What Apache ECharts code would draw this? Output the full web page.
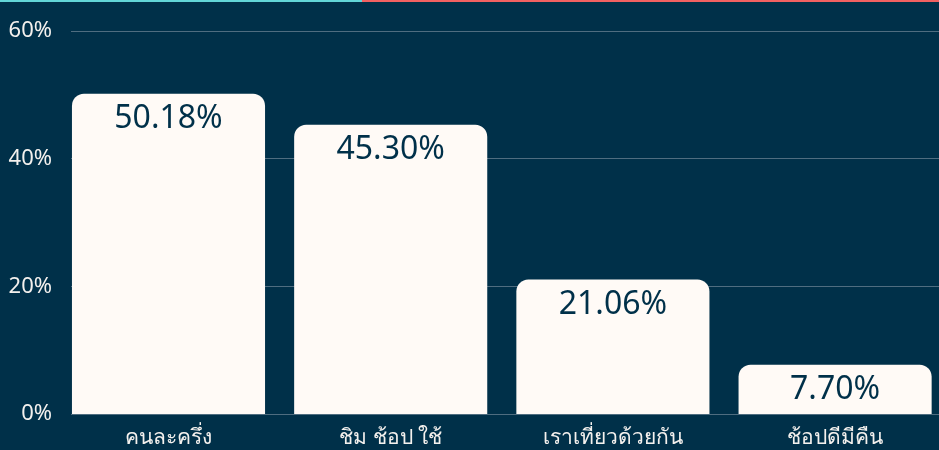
<!DOCTYPE html>
<html><head><meta charset="utf-8">
<script src="https://cdn.jsdelivr.net/npm/echarts@6/dist/echarts.min.js"></script>
<style>html,body{margin:0;padding:0;background:#003049;}#c{width:939px;height:450px;}</style>
</head><body><div id="c"></div>
<script>
const categories = ['คนละครึ่ง', 'ชิม ช้อป ใช้', 'เราเที่ยวด้วยกัน', 'ช้อปดีมีคืน'];
const values = [50.18, 45.30, 21.06, 7.70];
const yTicks = [0, 20, 40, 60];

const chart = echarts.init(document.getElementById('c'), null, {renderer: 'canvas'});
const font = 'Noto Sans, Open Sans, sans-serif';
chart.setOption({
  backgroundColor: '#003049',
  animation: false,
  graphic: [
    {type: 'rect', left: 0, top: 0, shape: {width: 362, height: 2}, style: {fill: '#62d6d8'}, z: 100},
    {type: 'rect', left: 362, top: 0, shape: {width: 577, height: 2}, style: {fill: '#f26161'}, z: 100}
  ],
  grid: [
    {left: 71, right: 0, top: 31, bottom: 36, outerBoundsMode: 'none', containLabel: false},
    {left: 57.4, width: 888.8, top: 31, bottom: 36, outerBoundsMode: 'none', containLabel: false}
  ],
  xAxis: [
    {type: 'category', gridIndex: 0, data: categories, show: false},
    {type: 'category', gridIndex: 1, data: categories,
     axisLine: {show: false}, axisTick: {show: false},
     axisLabel: {color: '#f4f1ee', fontSize: 21, fontFamily: font, margin: 14}}
  ],
  yAxis: [
    {type: 'value', gridIndex: 0, min: yTicks[0], max: yTicks[yTicks.length - 1], interval: 20,
     axisLine: {show: false}, axisTick: {show: false},
     axisLabel: {color: '#f4f1ee', fontSize: 22, fontFamily: font, margin: 19,
       padding: [5, 0, 0, 0], formatter: '{value}%'},
     splitLine: {lineStyle: {color: '#4f6d80', width: 1}}},
    {type: 'value', gridIndex: 1, min: yTicks[0], max: yTicks[yTicks.length - 1], interval: 20, show: false}
  ],
  series: [{
    type: 'bar', xAxisIndex: 1, yAxisIndex: 1,
    data: values,
    barCategoryGap: '13.1%',
    itemStyle: {color: '#fffaf6', borderRadius: [12, 12, 0, 0]},
    label: {show: true, position: 'insideTop', distance: 9, color: '#003049',
      fontSize: 32, fontFamily: font,
      formatter: p => p.value.toFixed(2) + '%'}
  }]
});
</script></body></html>
